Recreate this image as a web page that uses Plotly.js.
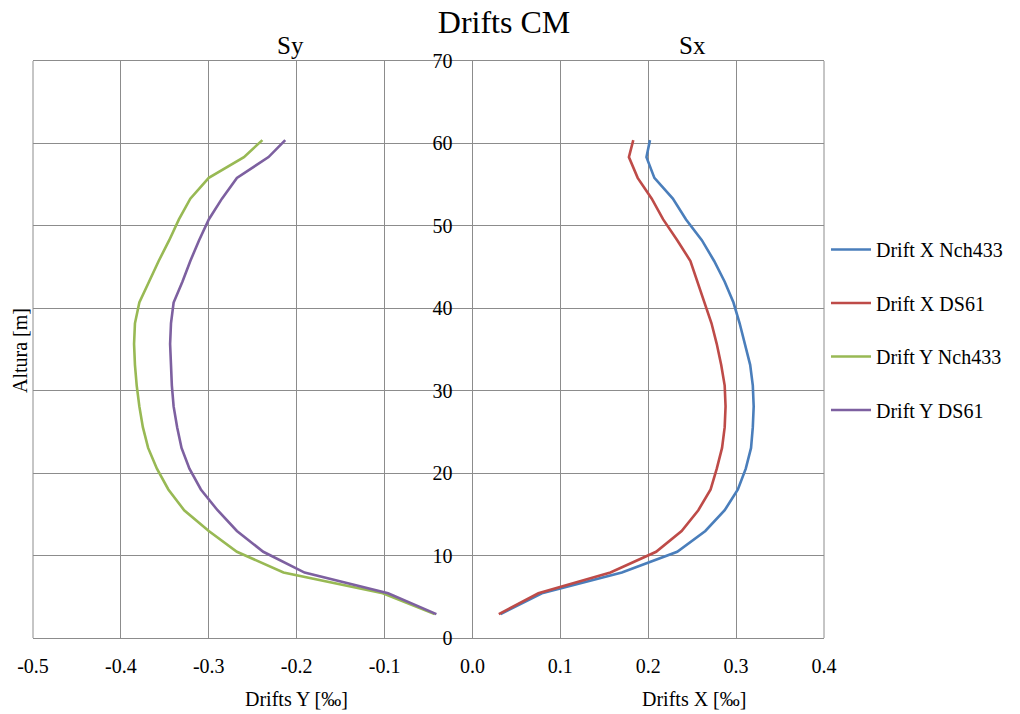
<!DOCTYPE html>
<html>
<head>
<meta charset="utf-8">
<script src="https://cdn.plot.ly/plotly-3.0.1.min.js"></script>
<style>html,body{margin:0;padding:0;background:#fff;}#chart{width:1020px;height:714px;}</style>
</head>
<body>
<div id="chart"></div>
<script>
// Heights (m)
const altura = [2.9, 5.42, 7.94, 10.46, 12.98, 15.5, 18.02, 20.54, 23.06, 25.58, 28.1, 30.62, 33.14, 35.66, 38.18, 40.7, 43.22, 45.74, 48.26, 50.78, 53.3, 55.82, 58.34, 60.4];
// Drifts (per mil)
const driftXNch433 = [0.032, 0.079, 0.170, 0.233, 0.265, 0.287, 0.302, 0.311, 0.317, 0.319, 0.320, 0.319, 0.316, 0.310, 0.304, 0.297, 0.287, 0.275, 0.261, 0.243, 0.228, 0.207, 0.198, 0.202];
const driftXDS61 = [0.030, 0.075, 0.157, 0.209, 0.238, 0.257, 0.271, 0.278, 0.284, 0.287, 0.288, 0.287, 0.283, 0.278, 0.272, 0.264, 0.256, 0.248, 0.233, 0.217, 0.204, 0.188, 0.178, 0.183];
const driftYNch433 = [-0.043, -0.102, -0.215, -0.268, -0.300, -0.328, -0.346, -0.359, -0.369, -0.375, -0.379, -0.382, -0.384, -0.385, -0.384, -0.379, -0.368, -0.357, -0.345, -0.334, -0.321, -0.300, -0.260, -0.239];
const driftYDS61 = [-0.041, -0.096, -0.191, -0.238, -0.268, -0.290, -0.309, -0.322, -0.331, -0.336, -0.340, -0.342, -0.343, -0.344, -0.343, -0.340, -0.330, -0.321, -0.311, -0.300, -0.285, -0.268, -0.232, -0.213];

const seriesNames = ["Drift X Nch433", "Drift X DS61", "Drift Y Nch433", "Drift Y DS61"];
const seriesColors = ["#4A7EBB", "#BE4B48", "#98B954", "#7D60A0"];
const seriesValues = [driftXNch433, driftXDS61, driftYNch433, driftYDS61];

const xTickVals = [-0.5, -0.4, -0.3, -0.2, -0.1, 0.0, 0.1, 0.2, 0.3, 0.4];
const xTickText = ["-0.5", "-0.4", "-0.3", "-0.2", "-0.1", "0.0", "0.1", "0.2", "0.3", "0.4"];
const yTickVals = [0, 10, 20, 30, 40, 50, 60, 70];

const chartTitle = "Drifts CM";
const subTitleY = "Sy";
const subTitleX = "Sx";
const xTitleY = "Drifts Y [‰]";
const xTitleX = "Drifts X [‰]";
const yTitle = "Altura [m]";

const FONT = "'Liberation Serif', 'DejaVu Serif', serif";
const GRID = "#8c8c8c";

const traces = seriesValues.map((vals, i) => ({
  type: "scatter",
  mode: "lines",
  x: vals,
  y: altura,
  name: seriesNames[i],
  legendgroup: "g" + i,
  line: {color: seriesColors[i], width: 2.6},
  hoverinfo: "skip"
}));

const L = 33, R = 828, T = 61, B = 638;
const W = R - L, H = B - T;
const px = v => (v - L) / W;
const py = v => (B - v) / H;

const layout = {
  width: 1020,
  height: 714,
  margin: {l: L, r: 1020 - R, t: T, b: 714 - B, pad: 0},
  paper_bgcolor: "#ffffff",
  plot_bgcolor: "#ffffff",
  font: {family: FONT, size: 20, color: "#000000"},
  showlegend: true,
  legend: {
    x: px(830), xanchor: "left",
    y: py(230), yanchor: "top",
    font: {family: FONT, size: 20, color: "#000000"},
    tracegroupgap: 24.5,
    itemwidth: 40,
    bgcolor: "rgba(0,0,0,0)",
    borderwidth: 0
  },
  title: {
    text: chartTitle,
    font: {family: FONT, size: 32, color: "#000000"},
    x: 504 / 1020, xanchor: "center", xref: "container",
    y: 1 - 22 / 714, yanchor: "middle", yref: "container"
  },
  xaxis: {
    range: [-0.5, 0.4],
    tickvals: xTickVals,
    ticktext: xTickText,
    showgrid: true,
    gridcolor: GRID,
    gridwidth: 1,
    zeroline: false,
    showline: true,
    linecolor: GRID,
    linewidth: 1,
    mirror: true,
    ticks: "",
    ticklabelstandoff: 10,
    tickfont: {family: FONT, size: 20, color: "#000000"},
    fixedrange: true
  },
  yaxis: {
    range: [0, 70],
    tickvals: yTickVals,
    anchor: "free",
    position: 5 / 9,
    showgrid: true,
    gridcolor: GRID,
    gridwidth: 1,
    zeroline: false,
    showline: true,
    linecolor: GRID,
    linewidth: 1,
    ticks: "",
    ticklabelstandoff: 16,
    tickfont: {family: FONT, size: 20, color: "#000000"},
    fixedrange: true
  },
  shapes: [
    {type: "line", xref: "paper", yref: "paper", x0: 0, x1: 0, y0: 0, y1: 1, line: {color: GRID, width: 1}},
    {type: "line", xref: "paper", yref: "paper", x0: 1, x1: 1, y0: 0, y1: 1, line: {color: GRID, width: 1}}
  ],
  annotations: [
    {text: subTitleY, xref: "paper", yref: "paper", x: px(292), y: py(45), xanchor: "center", yanchor: "middle", showarrow: false, font: {family: FONT, size: 25, color: "#000000"}},
    {text: subTitleX, xref: "paper", yref: "paper", x: px(696), y: py(45), xanchor: "center", yanchor: "middle", showarrow: false, font: {family: FONT, size: 25, color: "#000000"}},
    {text: xTitleY, xref: "paper", yref: "paper", x: px(298), y: py(699), xanchor: "center", yanchor: "middle", showarrow: false, font: {family: FONT, size: 20, color: "#000000"}},
    {text: xTitleX, xref: "paper", yref: "paper", x: px(697), y: py(699), xanchor: "center", yanchor: "middle", showarrow: false, font: {family: FONT, size: 20, color: "#000000"}},
    {text: yTitle, xref: "paper", yref: "paper", x: px(20), y: py(351), xanchor: "center", yanchor: "middle", textangle: -90, showarrow: false, font: {family: FONT, size: 20, color: "#000000"}}
  ]
};

Plotly.newPlot("chart", traces, layout, {displayModeBar: false, staticPlot: true});
</script>
</body>
</html>
